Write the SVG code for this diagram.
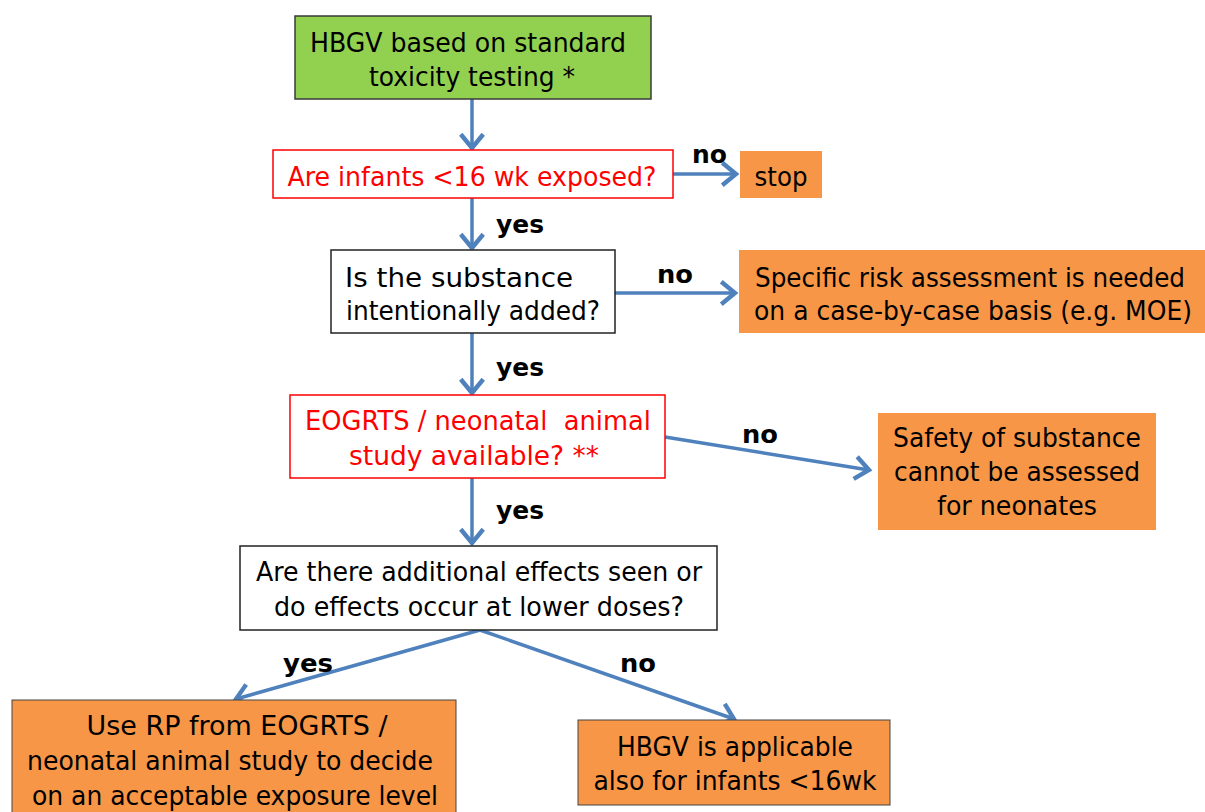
<svg xmlns="http://www.w3.org/2000/svg" width="1205" height="812" viewBox="0 0 1205 812">
<style>
.t{font-family:"DejaVu Sans","Verdana",sans-serif;font-size:26px;text-anchor:middle;fill:#000}
.r{fill:#ff0000}
.lbl{font-family:"DejaVu Sans","Verdana",sans-serif;font-size:25px;font-weight:bold;fill:#000}
.c{fill:none;stroke:#4f81bd;stroke-width:3.5}
.org{fill:#f79646}
</style>
<defs>
<marker id="ah" markerUnits="userSpaceOnUse" markerWidth="30" markerHeight="30" viewBox="-14 -12 18 24" refX="0" refY="0" orient="auto">
<path d="M -11 -9 L 0 0 L -11 9" fill="none" stroke="#4f81bd" stroke-width="3.5" stroke-linejoin="miter"/>
</marker>
</defs>
<rect width="1205" height="812" fill="#fff"/>
<g id="connectors">
<line class="c" x1="472" y1="99" x2="472" y2="148" marker-end="url(#ah)"/>
<line class="c" x1="673" y1="174" x2="736" y2="174" marker-end="url(#ah)"/>
<line class="c" x1="472" y1="198" x2="472" y2="248" marker-end="url(#ah)"/>
<line class="c" x1="615" y1="293" x2="735" y2="293" marker-end="url(#ah)"/>
<line class="c" x1="472" y1="333" x2="472" y2="393" marker-end="url(#ah)"/>
<line class="c" x1="665" y1="437" x2="869" y2="470" marker-end="url(#ah)"/>
<line class="c" x1="472" y1="478" x2="472" y2="543" marker-end="url(#ah)"/>
<line class="c" x1="480" y1="630" x2="236" y2="699" marker-end="url(#ah)"/>
<line class="c" x1="480" y1="630" x2="734" y2="719" marker-end="url(#ah)"/>
<text class="lbl" x="692" y="163" textLength="35" lengthAdjust="spacingAndGlyphs">no</text>
<text class="lbl" x="496" y="233" textLength="48" lengthAdjust="spacingAndGlyphs">yes</text>
<text class="lbl" x="657" y="283" textLength="36" lengthAdjust="spacingAndGlyphs">no</text>
<text class="lbl" x="496" y="376" textLength="48" lengthAdjust="spacingAndGlyphs">yes</text>
<text class="lbl" x="742" y="443" textLength="36" lengthAdjust="spacingAndGlyphs">no</text>
<text class="lbl" x="496" y="519" textLength="48" lengthAdjust="spacingAndGlyphs">yes</text>
<text class="lbl" x="283" y="672" textLength="50" lengthAdjust="spacingAndGlyphs">yes</text>
<text class="lbl" x="620" y="672" textLength="36" lengthAdjust="spacingAndGlyphs">no</text>
</g>
<g id="n1">
<rect x="295" y="16" width="356" height="83" fill="#92d050" stroke="#3a3a3a" stroke-width="1.5"/>
<text class="t" x="468" y="52" textLength="316" lengthAdjust="spacingAndGlyphs">HBGV based on standard</text>
<text class="t" x="472" y="86" textLength="206" lengthAdjust="spacingAndGlyphs">toxicity testing *</text>
</g>
<g id="n2">
<rect x="273" y="150" width="400" height="48" fill="#fff" stroke="#ff0000" stroke-width="1.5"/>
<text class="t r" x="472" y="186" textLength="369" lengthAdjust="spacingAndGlyphs">Are infants &lt;16 wk exposed?</text>
</g>
<g id="n3">
<rect x="740" y="151" width="82" height="47" class="org"/>
<text class="t" x="781" y="186" textLength="53" lengthAdjust="spacingAndGlyphs">stop</text>
</g>
<g id="n4">
<rect x="331" y="250" width="284" height="83" fill="#fff" stroke="#222" stroke-width="1.5"/>
<text class="t" x="459" y="287" textLength="228" lengthAdjust="spacingAndGlyphs">Is the substance</text>
<text class="t" x="473" y="320" textLength="254" lengthAdjust="spacingAndGlyphs">intentionally added?</text>
</g>
<g id="n5">
<rect x="739" y="250" width="466" height="83" class="org"/>
<text class="t" x="970" y="287" textLength="430" lengthAdjust="spacingAndGlyphs">Specific risk assessment is needed</text>
<text class="t" x="973" y="320" textLength="438" lengthAdjust="spacingAndGlyphs">on a case-by-case basis (e.g. MOE)</text>
</g>
<g id="n6">
<rect x="290" y="395" width="375" height="83" fill="#fff" stroke="#ff0000" stroke-width="1.5"/>
<text class="t r" x="478" y="430" textLength="346" lengthAdjust="spacingAndGlyphs" xml:space="preserve">EOGRTS / neonatal  animal</text>
<text class="t r" x="474" y="465" textLength="250" lengthAdjust="spacingAndGlyphs">study available? **</text>
</g>
<g id="n7">
<rect x="878" y="413" width="278" height="117" class="org"/>
<text class="t" x="1017" y="447" textLength="248" lengthAdjust="spacingAndGlyphs">Safety of substance</text>
<text class="t" x="1017" y="481" textLength="246" lengthAdjust="spacingAndGlyphs">cannot be assessed</text>
<text class="t" x="1017" y="515" textLength="160" lengthAdjust="spacingAndGlyphs">for neonates</text>
</g>
<g id="n8">
<rect x="240" y="546" width="477" height="84" fill="#fff" stroke="#222" stroke-width="1.5"/>
<text class="t" x="479" y="581" textLength="446" lengthAdjust="spacingAndGlyphs">Are there additional effects seen or</text>
<text class="t" x="479" y="616" textLength="410" lengthAdjust="spacingAndGlyphs">do effects occur at lower doses?</text>
</g>
<g id="n9">
<rect x="12" y="700" width="444" height="116" class="org" stroke="#444" stroke-width="1"/>
<text class="t" x="237" y="735" textLength="301" lengthAdjust="spacingAndGlyphs">Use RP from EOGRTS /</text>
<text class="t" x="230" y="770" textLength="406" lengthAdjust="spacingAndGlyphs">neonatal animal study to decide</text>
<text class="t" x="235" y="805" textLength="406" lengthAdjust="spacingAndGlyphs">on an acceptable exposure level</text>
</g>
<g id="n10">
<rect x="578" y="720" width="312" height="85" class="org" stroke="#444" stroke-width="1"/>
<text class="t" x="735" y="756" textLength="236" lengthAdjust="spacingAndGlyphs">HBGV is applicable</text>
<text class="t" x="735" y="790" textLength="283" lengthAdjust="spacingAndGlyphs">also for infants &lt;16wk</text>
</g>
</svg>
